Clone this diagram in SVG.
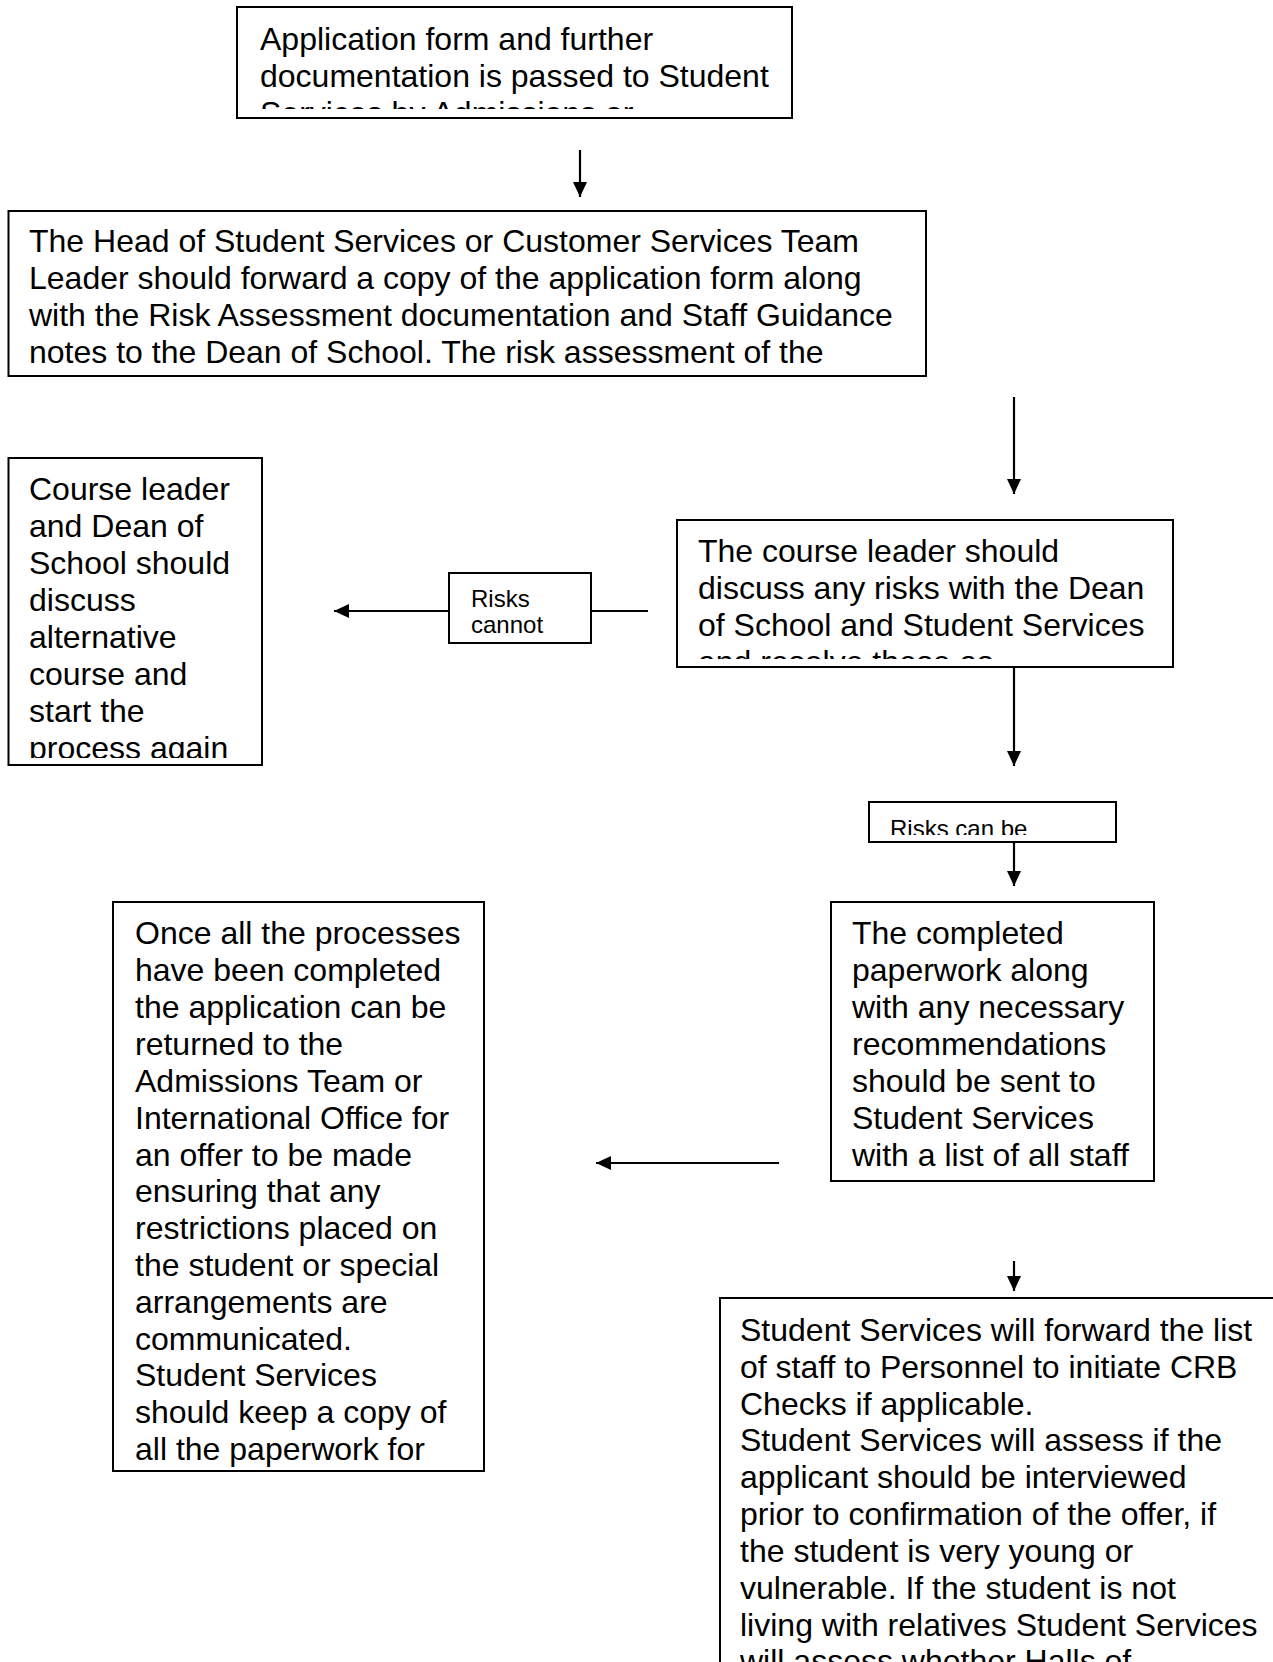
<svg xmlns="http://www.w3.org/2000/svg" width="1273" height="1662" viewBox="0 0 1273 1662">
<style>
.box{fill:#fff;stroke:#000;stroke-width:2}
.t{font-family:"Liberation Sans",Arial,sans-serif;font-size:32px;fill:#000}
.s{font-family:"Liberation Sans",Arial,sans-serif;font-size:24px;fill:#000}
.c{stroke:#000;stroke-width:2.2;fill:none;marker-end:url(#ah)}
.l{stroke:#000;stroke-width:2.2;fill:none}
</style>
<defs>
<marker id="ah" markerUnits="userSpaceOnUse" markerWidth="16" markerHeight="14" refX="15" refY="7" orient="auto">
<path d="M0,0 L15,7 L0,14 z" fill="#000"/>
</marker>
<clipPath id="c1"><rect x="238" y="8" width="553" height="101"/></clipPath>
<clipPath id="c2"><rect x="9" y="212" width="916" height="158"/></clipPath>
<clipPath id="c3"><rect x="9" y="459" width="252" height="299"/></clipPath>
<clipPath id="c4"><rect x="678" y="521" width="494" height="138"/></clipPath>
<clipPath id="c5"><rect x="870" y="803" width="245" height="32"/></clipPath>
<clipPath id="c6"><rect x="832" y="903" width="321" height="272"/></clipPath>
<clipPath id="c7"><rect x="114" y="903" width="369" height="565"/></clipPath>
<clipPath id="c8"><rect x="721" y="1299" width="552" height="363"/></clipPath>
<clipPath id="c9"><rect x="450" y="574" width="140" height="68"/></clipPath>
</defs>
<rect width="1273" height="1662" fill="#fff"/>

<g id="connectors">
<line class="c" x1="580" y1="150" x2="580" y2="197"/>
<line class="c" x1="1014" y1="397" x2="1014" y2="494"/>
<line class="l" x1="648" y1="611" x2="591" y2="611"/>
<line class="c" x1="449" y1="611" x2="334" y2="611"/>
<line class="c" x1="1014" y1="667" x2="1014" y2="766"/>
<line class="c" x1="1014" y1="842" x2="1014" y2="886"/>
<line class="c" x1="779" y1="1163" x2="596" y2="1163"/>
<line class="c" x1="1014" y1="1261" x2="1014" y2="1291"/>
</g>

<g id="n1">
<rect class="box" x="237" y="7" width="555" height="111"/>
<g clip-path="url(#c1)">
<text class="t" x="260" y="50">Application form and further</text>
<text class="t" x="260" y="87">documentation is passed to Student</text>
<text class="t" x="260" y="124">Services by Admissions or</text>
</g>
</g>

<g id="n2">
<rect class="box" x="8.5" y="211" width="917.5" height="165"/>
<g clip-path="url(#c2)">
<text class="t" x="29" y="252">The Head of Student Services or Customer Services Team</text>
<text class="t" x="29" y="289">Leader should forward a copy of the application form along</text>
<text class="t" x="29" y="326">with the Risk Assessment documentation and Staff Guidance</text>
<text class="t" x="29" y="363">notes to the Dean of School. The risk assessment of the</text>
</g>
</g>

<g id="n3">
<rect class="box" x="8.5" y="458" width="253.5" height="307"/>
<g clip-path="url(#c3)">
<text class="t" x="29" y="500">Course leader</text>
<text class="t" x="29" y="537">and Dean of</text>
<text class="t" x="29" y="574">School should</text>
<text class="t" x="29" y="611">discuss</text>
<text class="t" x="29" y="648">alternative</text>
<text class="t" x="29" y="685">course and</text>
<text class="t" x="29" y="722">start the</text>
<text class="t" x="29" y="759">process again</text>
</g>
</g>

<g id="n4">
<rect class="box" x="449" y="573" width="142" height="70"/>
<g clip-path="url(#c9)">
<text class="s" x="471" y="607">Risks</text>
<text class="s" x="471" y="633">cannot</text>
</g>
</g>

<g id="n5">
<rect class="box" x="677" y="520" width="496" height="147"/>
<g clip-path="url(#c4)">
<text class="t" x="698" y="562">The course leader should</text>
<text class="t" x="698" y="599">discuss any risks with the Dean</text>
<text class="t" x="698" y="636">of School and Student Services</text>
<text class="t" x="698" y="673">and resolve these as</text>
</g>
</g>

<g id="n6">
<rect class="box" x="869" y="802" width="247" height="40"/>
<g clip-path="url(#c5)">
<text class="s" x="890" y="837">Risks can be</text>
</g>
</g>

<g id="n7">
<rect class="box" x="831" y="902" width="323" height="279"/>
<g clip-path="url(#c6)">
<text class="t" x="852" y="944">The completed</text>
<text class="t" x="852" y="981">paperwork along</text>
<text class="t" x="852" y="1018">with any necessary</text>
<text class="t" x="852" y="1055">recommendations</text>
<text class="t" x="852" y="1092">should be sent to</text>
<text class="t" x="852" y="1129">Student Services</text>
<text class="t" x="852" y="1166">with a list of all staff</text>
</g>
</g>

<g id="n8">
<rect class="box" x="113" y="902" width="371" height="569"/>
<g clip-path="url(#c7)">
<text class="t" x="135" y="944">Once all the processes</text>
<text class="t" x="135" y="981">have been completed</text>
<text class="t" x="135" y="1018">the application can be</text>
<text class="t" x="135" y="1055">returned to the</text>
<text class="t" x="135" y="1092">Admissions Team or</text>
<text class="t" x="135" y="1129">International Office for</text>
<text class="t" x="135" y="1166">an offer to be made</text>
<text class="t" x="135" y="1202">ensuring that any</text>
<text class="t" x="135" y="1239">restrictions placed on</text>
<text class="t" x="135" y="1276">the student or special</text>
<text class="t" x="135" y="1313">arrangements are</text>
<text class="t" x="135" y="1350">communicated.</text>
<text class="t" x="135" y="1386">Student Services</text>
<text class="t" x="135" y="1423">should keep a copy of</text>
<text class="t" x="135" y="1460">all the paperwork for</text>
</g>
</g>

<g id="n9">
<rect class="box" x="720" y="1298" width="560" height="400"/>
<g clip-path="url(#c8)">
<text class="t" x="740" y="1341">Student Services will forward the list</text>
<text class="t" x="740" y="1378">of staff to Personnel to initiate CRB</text>
<text class="t" x="740" y="1415">Checks if applicable.</text>
<text class="t" x="740" y="1451">Student Services will assess if the</text>
<text class="t" x="740" y="1488">applicant should be interviewed</text>
<text class="t" x="740" y="1525">prior to confirmation of the offer, if</text>
<text class="t" x="740" y="1562">the student is very young or</text>
<text class="t" x="740" y="1599">vulnerable. If the student is not</text>
<text class="t" x="740" y="1636">living with relatives Student Services</text>
<text class="t" x="740" y="1672">will assess whether Halls of</text>
</g>
</g>
</svg>
